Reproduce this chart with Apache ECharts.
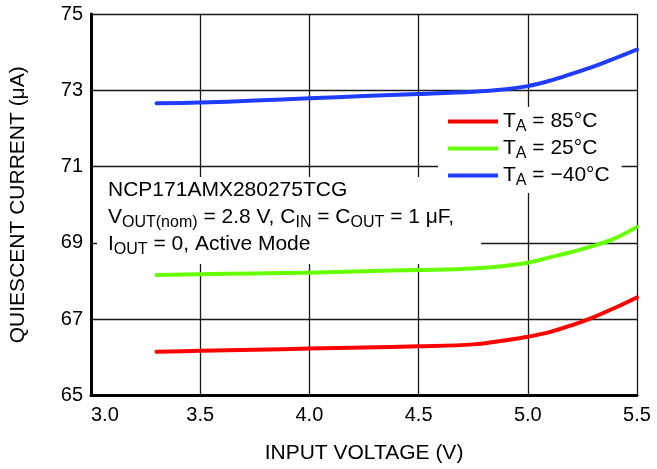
<!DOCTYPE html>
<html>
<head>
<meta charset="utf-8">
<script src="https://cdn.jsdelivr.net/npm/echarts@6/dist/echarts.min.js"></script>
<style>
  html, body { margin: 0; padding: 0; background: #fff; }
  #chart { width: 657px; height: 469px; }
</style>
</head>
<body>
<div id="chart"></div>
<script>
// Input voltage sample points (V)
const voltage = [3.3, 3.5, 3.75, 4.0, 4.25, 4.5, 4.75, 4.9, 5.0, 5.1, 5.2, 5.3, 5.4, 5.5];

// Quiescent current (µA) at each ambient temperature
const iq85 = [66.15, 66.17, 66.20, 66.23, 66.26, 66.29, 66.34, 66.45, 66.54, 66.66, 66.84, 67.05, 67.30, 67.57];
const iq25 = [68.16, 68.18, 68.20, 68.22, 68.26, 68.29, 68.33, 68.40, 68.48, 68.62, 68.76, 68.92, 69.12, 69.42];
const iqM40 = [72.66, 72.68, 72.73, 72.79, 72.85, 72.90, 72.96, 73.03, 73.11, 73.25, 73.43, 73.62, 73.84, 74.07];

// Temperature labels for the legend
const temps = ['85', '25', '\u221240'];

// Axis tick values
const xTicks = [3.0, 3.5, 4.0, 4.5, 5.0, 5.5];
const yTicks = [65, 67, 69, 71, 73, 75];

const FONT = '"Liberation Sans", Arial, Helvetica, sans-serif';
const colors = ['#ff0000', '#66ff00', '#1f3cff'];
const seriesValues = [iq85, iq25, iqM40];

const richText = {
  t: { fontSize: 21, fontFamily: FONT, color: '#000', lineHeight: 27 },
  s: { fontSize: 16, fontFamily: FONT, color: '#000', lineHeight: 12, verticalAlign: 'bottom' }
};

const chart = echarts.init(document.getElementById('chart'), null, { renderer: 'canvas' });

chart.setOption({
  animation: false,
  backgroundColor: '#fff',
  grid: { left: 90, right: 20, top: 14, bottom: 71, containLabel: false },
  // Test-condition note on a white panel that masks the grid lines
  title: {
    z: 2,
    left: 97,
    top: 174,
    padding: [3, 27, 6, 11],
    backgroundColor: '#fff',
    text: '{t|NCP171AMX280275TCG}\n' +
          '{t|V}{s|OUT(nom)}{t| = 2.8 V, C}{s|IN}{t| = C}{s|OUT}{t| = 1 \u03bcF,}\n' +
          '{t|I}{s|OUT}{t| = 0, Active Mode}',
    textStyle: { rich: richText, fontFamily: FONT, fontSize: 21, fontWeight: 'normal' }
  },
  legend: {
    z: 6,
    orient: 'vertical',
    left: 438,
    top: 107,
    padding: [4, 12, 4, 10],
    backgroundColor: '#fff',
    itemWidth: 50,
    itemHeight: 4,
    itemGap: 3,
    icon: 'rect',
    data: temps,
    formatter: function (name) {
      return '{t|T}{s|A}{t| = ' + name + '\u00b0C}';
    },
    textStyle: { rich: richText, fontFamily: FONT, fontSize: 21 }
  },
  xAxis: {
    type: 'value',
    min: xTicks[0],
    max: xTicks[xTicks.length - 1],
    interval: 0.5,
    name: 'INPUT VOLTAGE (V)',
    nameLocation: 'middle',
    nameGap: 58,
    nameTextStyle: { fontFamily: FONT, fontSize: 21, color: '#000', verticalAlign: 'middle' },
    axisLine: { show: true, lineStyle: { color: '#000', width: 3 } },
    axisTick: { show: false },
    axisLabel: {
      fontFamily: FONT, fontSize: 20, color: '#000', margin: 10,
      alignMinLabel: 'left',
      formatter: function (v) { return v.toFixed(1); }
    },
    splitLine: { show: true, lineStyle: { color: '#1a1a1a', width: 1.3 } }
  },
  yAxis: {
    type: 'value',
    min: yTicks[0],
    max: yTicks[yTicks.length - 1],
    interval: 2,
    name: 'QUIESCENT CURRENT (\u03bcA)',
    nameLocation: 'middle',
    nameRotate: 90,
    nameGap: 62,
    nameTextStyle: { fontFamily: FONT, fontSize: 21, color: '#000' },
    axisLine: { show: true, lineStyle: { color: '#000', width: 3 } },
    axisTick: { show: false },
    axisLabel: { fontFamily: FONT, fontSize: 20, color: '#000', margin: 8 },
    splitLine: { show: true, lineStyle: { color: '#1a1a1a', width: 1.3 } }
  },
  series: temps.map(function (t, i) {
    return {
      name: t,
      type: 'line',
      smooth: 0.35,
      showSymbol: false,
      symbol: 'none',
      color: colors[i],
      lineStyle: { color: colors[i], width: 4, cap: 'round', join: 'round' },
      data: voltage.map(function (v, k) { return [v, seriesValues[i][k]]; }),
      z: 3
    };
  })
});
</script>
</body>
</html>
